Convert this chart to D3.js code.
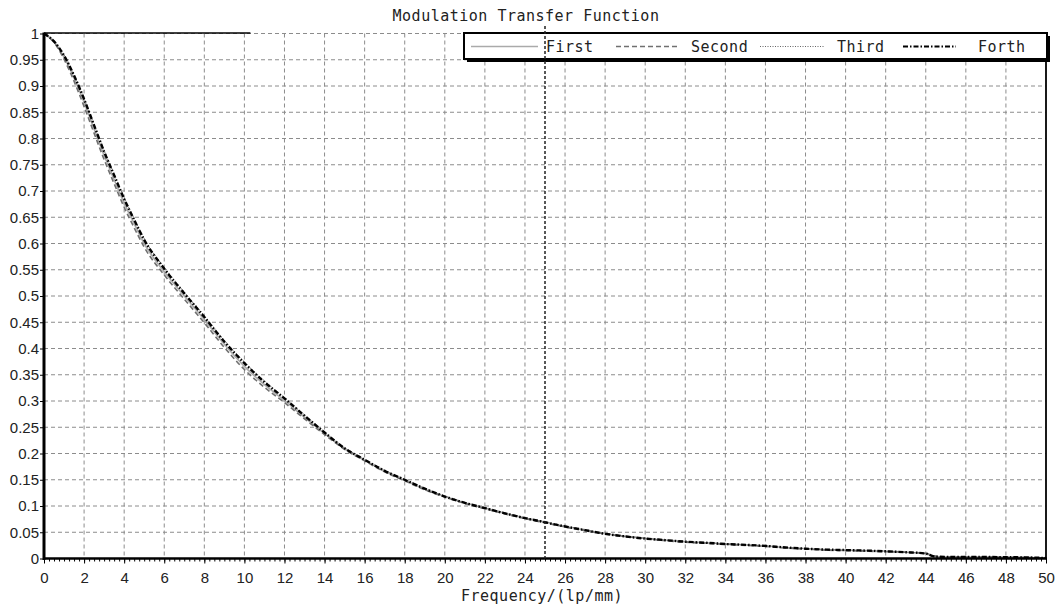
<!DOCTYPE html>
<html>
<head>
<meta charset="utf-8">
<script src="https://cdn.jsdelivr.net/npm/d3@7"></script>
<style>
  html, body { margin: 0; padding: 0; background: #fff; }
  svg { display: block; }
  .mono { font-family: "DejaVu Sans Mono", "Liberation Mono", monospace; font-size: 15px; letter-spacing: 0.5px; fill: #222; }
  .tick text { font-family: "Liberation Sans", Arial, sans-serif; font-size: 15px; fill: #222; }
</style>
</head>
<body>
<svg id="chart" width="1058" height="610"></svg>
<script>
// ---- data ----
const frequency = [0,0.5,1,1.5,2,2.5,3,3.5,4,4.5,5,6,7,8,9,10,11,12,13,14,15,16,17,18,19,20,21,22,23,24,25,26,27,28,29,30,31,32,33,34,35,36,37,38,39,40,41,42,43,44,44.4,45,46,47,48,49,50];
const first  = [1,0.984,0.955,0.915,0.869,0.818,0.768,0.722,0.677,0.638,0.600,0.546,0.500,0.455,0.408,0.366,0.331,0.301,0.269,0.238,0.209,0.187,0.166,0.149,0.132,0.118,0.106,0.096,0.086,0.077,0.069,0.061,0.054,0.047,0.042,0.038,0.035,0.032,0.030,0.028,0.026,0.024,0.021,0.019,0.017,0.016,0.015,0.014,0.012,0.009,0.004,0.003,0.003,0.0028,0.0025,0.002,0.001];
const second = [1,0.983,0.951,0.909,0.861,0.810,0.760,0.714,0.669,0.630,0.593,0.540,0.494,0.449,0.402,0.360,0.326,0.297,0.266,0.236,0.208,0.186,0.165,0.148,0.131,0.117,0.105,0.095,0.085,0.076,0.068,0.060,0.053,0.047,0.042,0.038,0.034,0.031,0.029,0.027,0.025,0.023,0.020,0.018,0.016,0.015,0.014,0.013,0.012,0.010,0.005,0.003,0.003,0.0027,0.0024,0.0019,0.001];
const third  = [1,0.986,0.959,0.921,0.876,0.826,0.777,0.732,0.687,0.647,0.609,0.554,0.507,0.462,0.415,0.374,0.338,0.306,0.273,0.241,0.211,0.189,0.168,0.151,0.134,0.119,0.107,0.097,0.087,0.078,0.070,0.062,0.055,0.048,0.043,0.039,0.035,0.032,0.030,0.028,0.026,0.024,0.021,0.019,0.017,0.016,0.015,0.014,0.012,0.0095,0.004,0.003,0.003,0.0028,0.0025,0.002,0.001];
const forth  = [1,0.985,0.958,0.920,0.875,0.825,0.775,0.730,0.685,0.645,0.607,0.552,0.505,0.460,0.413,0.372,0.336,0.305,0.272,0.240,0.210,0.188,0.167,0.150,0.133,0.118,0.106,0.096,0.086,0.077,0.069,0.061,0.054,0.047,0.042,0.038,0.035,0.032,0.030,0.0276,0.026,0.024,0.021,0.0187,0.017,0.016,0.015,0.0137,0.012,0.0095,0.004,0.003,0.003,0.0028,0.0025,0.002,0.001];
const seriesNames = ["First", "Second", "Third", "Forth"];
const xTicks = [0,2,4,6,8,10,12,14,16,18,20,22,24,26,28,30,32,34,36,38,40,42,44,46,48,50];
const yTicks = [0,0.05,0.1,0.15,0.2,0.25,0.3,0.35,0.4,0.45,0.5,0.55,0.6,0.65,0.7,0.75,0.8,0.85,0.9,0.95,1];
const markerFrequency = 25;
const titleText = "Modulation Transfer Function";
const xLabelText = "Frequency/(lp/mm)";

// ---- layout ----
const svg = d3.select("#chart");
const L = 44, R = 1046, T = 33.5, B = 558.5;
const x = d3.scaleLinear().domain([0, 50]).range([L, R]);
const y = d3.scaleLinear().domain([0, 1]).range([B, T]);

const styles = [
  { stroke: "#aaaaaa", width: 1.6, dash: null },
  { stroke: "#707070", width: 1.6, dash: "5,3" },
  { stroke: "#666666", width: 1.1, dash: "1,1.5" },
  { stroke: "#000000", width: 2.4, dash: "5,2,1.5,2" }
];

// grid
const grid = svg.append("g");
grid.selectAll("line.v").data(xTicks.filter(d => d > 0 && d < 50)).join("line")
  .attr("x1", d => x(d)).attr("x2", d => x(d)).attr("y1", T).attr("y2", B)
  .attr("stroke", "#8c8c8c").attr("stroke-width", 1).attr("stroke-dasharray", "4,3");
grid.selectAll("line.h").data(yTicks.filter(d => d > 0)).join("line")
  .attr("x1", L).attr("x2", R).attr("y1", d => y(d)).attr("y2", d => y(d))
  .attr("stroke", "#8c8c8c").attr("stroke-width", 1).attr("stroke-dasharray", "4,3");

// top-left dark segment of frame
svg.append("line").attr("x1", L).attr("x2", x(10.3)).attr("y1", T - 0.5).attr("y2", T - 0.5)
  .attr("stroke", "#000").attr("stroke-width", 1.5);

// series
const allSeries = [first, second, third, forth];
const line = d3.line().x(d => x(d[0])).y(d => y(d[1])).curve(d3.curveMonotoneX);
allSeries.forEach((vals, i) => {
  const pts = frequency.map((f, k) => [f, vals[k]]);
  svg.append("path").datum(pts).attr("d", line)
    .attr("fill", "none").attr("stroke", styles[i].stroke)
    .attr("stroke-width", styles[i].width)
    .attr("stroke-dasharray", styles[i].dash);
});

// axes
const yAxis = d3.axisLeft(y).tickValues(yTicks).tickSize(4).tickPadding(1)
  .tickFormat(d => String(+d.toFixed(2)));
const gy = svg.append("g").attr("transform", `translate(${L},0)`).call(yAxis);
gy.select(".domain").remove();
gy.selectAll(".tick line").attr("stroke", "#000");

const minorTicks = d3.range(0, 50.001, 0.25);
const xMinor = d3.axisBottom(x).tickValues(minorTicks).tickSize(3).tickFormat("");
const gxm = svg.append("g").attr("transform", `translate(0,${B})`).call(xMinor);
gxm.select(".domain").remove();
gxm.selectAll(".tick line").attr("stroke", "#000");

const xAxis = d3.axisBottom(x).tickValues(xTicks).tickSize(5).tickPadding(9).tickFormat(d => String(d));
const gx = svg.append("g").attr("transform", `translate(0,${B})`).call(xAxis);
gx.select(".domain").remove();
gx.selectAll(".tick line").attr("stroke", "#000");

// spines
svg.append("line").attr("x1", L).attr("x2", L).attr("y1", T - 1).attr("y2", B + 1.5)
  .attr("stroke", "#000").attr("stroke-width", 3);
svg.append("line").attr("x1", L).attr("x2", R + 1).attr("y1", B).attr("y2", B)
  .attr("stroke", "#000").attr("stroke-width", 2.5);
svg.append("line").attr("x1", R).attr("x2", R).attr("y1", T).attr("y2", B)
  .attr("stroke", "#000").attr("stroke-width", 1.8);

// legend
const lg = svg.append("g");
lg.append("rect").attr("x", 467).attr("y", 36).attr("width", 583).attr("height", 26).attr("fill", "#000");
lg.append("rect").attr("x", 464).attr("y", 33).attr("width", 583).attr("height", 26)
  .attr("fill", "#fff").attr("stroke", "#000").attr("stroke-width", 2);
const legendLayout = [
  { x1: 471, x2: 538, tx: 546 },
  { x1: 616, x2: 678, tx: 691 },
  { x1: 760, x2: 824, tx: 837 },
  { x1: 903, x2: 956, tx: 978 }
];
seriesNames.forEach((name, i) => {
  const p = legendLayout[i];
  lg.append("line").attr("x1", p.x1).attr("x2", p.x2).attr("y1", 46.5).attr("y2", 46.5)
    .attr("stroke", styles[i].stroke).attr("stroke-width", i === 3 ? 2 : styles[i].width)
    .attr("stroke-dasharray", styles[i].dash);
  lg.append("text").attr("class", "mono").attr("x", p.tx).attr("y", 52).text(name);
});

// marker line at 25
svg.append("line").attr("x1", x(markerFrequency)).attr("x2", x(markerFrequency))
  .attr("y1", 26).attr("y2", B)
  .attr("stroke", "#222").attr("stroke-width", 1.5).attr("stroke-dasharray", "3,2");

// title and axis label
svg.append("text").attr("class", "mono").attr("x", 526).attr("y", 21).attr("text-anchor", "middle").text(titleText);
svg.append("text").attr("class", "mono").attr("x", 542).attr("y", 601).attr("text-anchor", "middle").text(xLabelText);
</script>
</body>
</html>
